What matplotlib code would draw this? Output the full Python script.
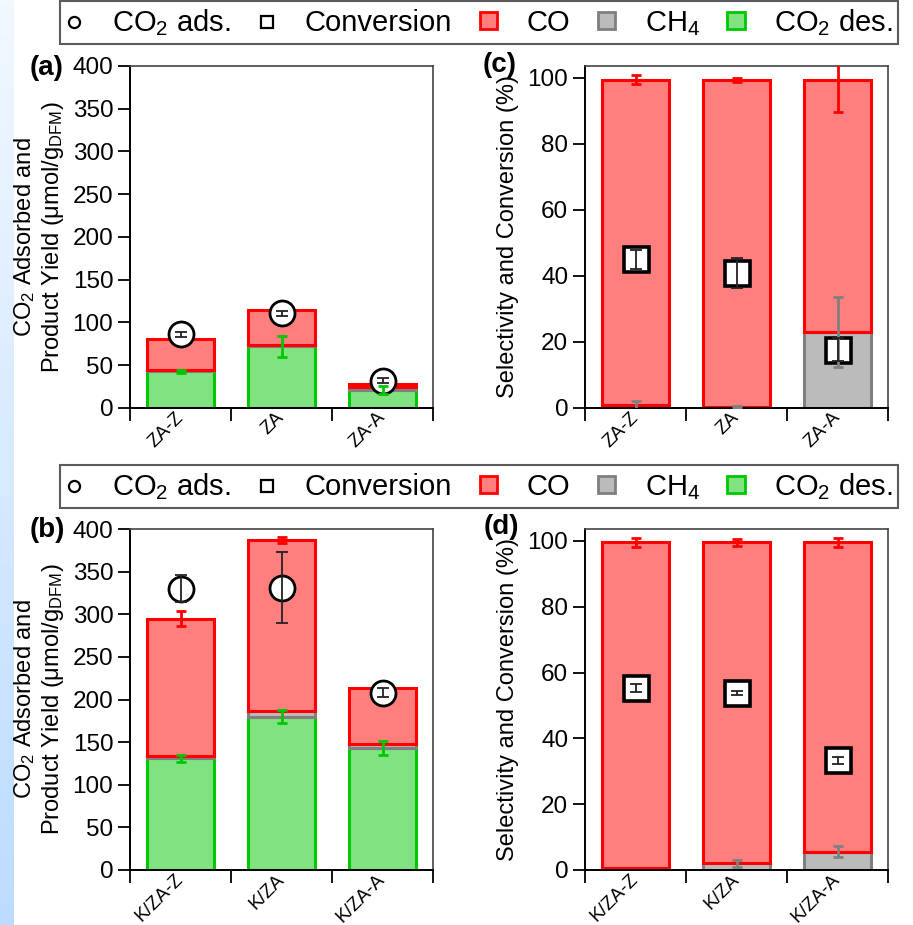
import numpy as np
import matplotlib.pyplot as plt
from matplotlib.lines import Line2D
from matplotlib.patches import Patch
from matplotlib.colors import LinearSegmentedColormap

plt.rcParams['font.family'] = ['Liberation Sans', 'DejaVu Sans']
plt.rcParams['mathtext.fontset'] = 'custom'
plt.rcParams['mathtext.rm'] = 'Liberation Sans'
plt.rcParams['mathtext.it'] = 'Liberation Sans:italic'
plt.rcParams['mathtext.bf'] = 'Liberation Sans:bold'

# ---- data ----
cats_top = ['ZA-Z', 'ZA', 'ZA-A']
cats_bot = ['K/ZA-Z', 'K/ZA', 'K/ZA-A']

# (a) yields, umol/g
co2des_a = [43, 72, 21]
ch4_a = [2, 2, 3]
co_a = [36, 41, 4]
co2des_err_a = [2, 12.5, 5]
co_err_a = [0, 0, 0]
co2ads_a = [86, 111, 32]
co2ads_err_a = [3, 3, 3]

# (b) yields, umol/g
co2des_b = [131, 180, 143]
ch4_b = [3, 6, 5]
co_b = [161, 201, 66]
co2des_err_b = [4, 8, 8.5]
co_err_b = [9, 4, 0]
co2ads_b = [330, 331, 208]
co2ads_err_b = [15.5, 41.5, 5]

# (c) selectivity / conversion, %
ch4_c = [0.8, 0.3, 23]
co_c = [98.7, 99.2, 76.5]
ch4_err_c = [1.4, 0.3, 10.6]
co_err_c = [1.4, 0.6, 9.8]
conv_c = [45, 40.8, 17.7]
conv_err_c = [3, 4.5, 3.5]

# (d) selectivity / conversion, %
ch4_d = [0.5, 2, 5.6]
co_d = [99, 97.5, 93.9]
ch4_err_d = [0, 1, 1.7]
co_err_d = [1.5, 1, 1.5]
conv_d = [55.2, 53.7, 33.3]
conv_err_d = [1.2, 0.6, 1]

RED_F, RED_E = '#ff7f7f', '#ff0000'
GRAY_F, GRAY_E = '#bbbbbb', '#808080'
GRN_F, GRN_E = '#80e280', '#00c800'
W = 0.66
LW = 2.2

fig = plt.figure(figsize=(9.13, 9.25), dpi=100)

# light blue strip on the left
strip = fig.add_axes([0, 0, 13 / 913, 1])
grad = np.linspace(0, 1, 256).reshape(-1, 1)
cm = LinearSegmentedColormap.from_list('s', ['#bcdcff', '#f2f8ff'])
strip.imshow(grad, aspect='auto', cmap=cm, origin='lower', extent=[0, 1, 0, 1])
strip.axis('off')


def errs(ax, x, y, e, color, lw=1.6, cap=3.5):
    x = np.asarray(x, float); y = np.asarray(y, float); e = np.asarray(e, float)
    m = e > 0
    if m.any():
        ax.errorbar(x[m], y[m], yerr=e[m], fmt='none', ecolor=color,
                    elinewidth=lw, capsize=cap, capthick=lw, zorder=5)


def style(ax, cats, ylim, yticks):
    x = np.arange(len(cats))
    ax.set_xlim(-0.5, 2.5)
    ax.set_ylim(*ylim)
    ax.set_yticks(yticks)
    ax.set_xticks(x)
    ax.set_xticklabels(cats, rotation=45, ha='right', va='center',
                       rotation_mode='anchor', fontsize=13.5)
    ax.tick_params(axis='x', which='major', length=0, pad=5)
    ax.set_xticks([-0.5, 0.5, 1.5, 2.5], minor=True)
    ax.tick_params(axis='x', which='minor', length=9, width=1.3, direction='out')
    ax.tick_params(axis='y', length=9, width=1.3, direction='out', labelsize=17.5, pad=3)
    for s in ['left', 'bottom']:
        ax.spines[s].set_linewidth(1.4)
        ax.spines[s].set_color('black')
    for s in ['top', 'right']:
        ax.spines[s].set_linewidth(1.2)
        ax.spines[s].set_color('#444444')


def yield_panel(ax, cats, des, ch4, co, des_err, co_err, ads, ads_err):
    x = np.arange(len(cats))
    des = np.array(des, float); ch4 = np.array(ch4, float); co = np.array(co, float)
    ax.bar(x, des, W, color=GRN_F, edgecolor=GRN_E, linewidth=LW, zorder=2)
    ax.bar(x, ch4, W, bottom=des, color=GRAY_F, edgecolor=GRAY_E, linewidth=LW, zorder=2)
    ax.bar(x, co, W, bottom=des + ch4, color=RED_F, edgecolor=RED_E, linewidth=LW, zorder=2)
    errs(ax, x, des, des_err, GRN_E, lw=2)
    errs(ax, x, des + ch4 + co, co_err, RED_E, lw=2)
    ax.plot(x, ads, 'o', ms=18, mfc='white', mec='black', mew=2, zorder=4)
    errs(ax, x, ads, ads_err, '#222222', lw=1.3, cap=4)
    style(ax, cats, (0, 400), np.arange(0, 401, 50))
    ax.set_ylabel('CO$_2$ Adsorbed and\nProduct Yield (μmol/g$_{\\mathrm{DFM}}$)',
                  fontsize=17, labelpad=5, linespacing=1.15)


def sel_panel(ax, cats, ch4, co, ch4_err, co_err, conv, conv_err):
    x = np.arange(len(cats))
    ch4 = np.array(ch4, float); co = np.array(co, float)
    ax.bar(x, ch4, W, color=GRAY_F, edgecolor=GRAY_E, linewidth=LW, zorder=2)
    ax.bar(x, co, W, bottom=ch4, color=RED_F, edgecolor=RED_E, linewidth=LW, zorder=2)
    errs(ax, x, ch4, ch4_err, GRAY_E, lw=2)
    errs(ax, x, ch4 + co, co_err, RED_E, lw=2)
    ax.plot(x, conv, 's', ms=18, mfc='white', mec='black', mew=2.6, zorder=4)
    errs(ax, x, conv, conv_err, '#222222', lw=1.3, cap=4)
    style(ax, cats, (0, 103.6), np.arange(0, 101, 20))
    ax.set_ylabel('Selectivity and Conversion (%)', fontsize=17, labelpad=6)


L1, L2, AW = 130 / 913, 585 / 913, 303 / 913
ax_a = fig.add_axes([L1, 1 - 408 / 925, AW, 342 / 925])
ax_c = fig.add_axes([L2, 1 - 408 / 925, AW, 342 / 925])
ax_b = fig.add_axes([L1, 1 - 870 / 925, AW, 341 / 925])
ax_d = fig.add_axes([L2, 1 - 870 / 925, AW, 341 / 925])

yield_panel(ax_a, cats_top, co2des_a, ch4_a, co_a, co2des_err_a, co_err_a, co2ads_a, co2ads_err_a)
yield_panel(ax_b, cats_bot, co2des_b, ch4_b, co_b, co2des_err_b, co_err_b, co2ads_b, co2ads_err_b)
sel_panel(ax_c, cats_top, ch4_c, co_c, ch4_err_c, co_err_c, conv_c, conv_err_c)
sel_panel(ax_d, cats_bot, ch4_d, co_d, ch4_err_d, co_err_d, conv_d, conv_err_d)

for lab, (px, py) in {'(a)': (47, 68), '(c)': (500, 65), '(b)': (47, 530), '(d)': (501, 527)}.items():
    fig.text(px / 913, 1 - py / 925, lab, fontsize=20, fontweight='bold', ha='center', va='center')

handles = [
    Line2D([], [], marker='o', ls='none', ms=8, mfc='white', mec='black', mew=1.6),
    Line2D([], [], marker='s', ls='none', ms=8, mfc='white', mec='black', mew=1.6),
    Patch(facecolor=RED_F, edgecolor=RED_E, linewidth=2),
    Patch(facecolor=GRAY_F, edgecolor=GRAY_E, linewidth=2),
    Patch(facecolor=GRN_F, edgecolor=GRN_E, linewidth=2),
]
labels = ['CO$_2$ ads.', 'Conversion', 'CO', 'CH$_4$', 'CO$_2$ des.']
for ytop in (3, 467):
    leg = fig.legend(handles, labels, ncol=5, fontsize=21,
                     bbox_to_anchor=(479 / 913, 1 - (ytop + 19.5) / 925),
                     loc='center', frameon=True, fancybox=False, edgecolor='#333333',
                     handlelength=0.6, handleheight=0.5, handletextpad=1.0,
                     columnspacing=0.95, borderpad=0.2, borderaxespad=0)
    leg.get_frame().set_linewidth(1.5)

fig.savefig('out.png', dpi=100)
